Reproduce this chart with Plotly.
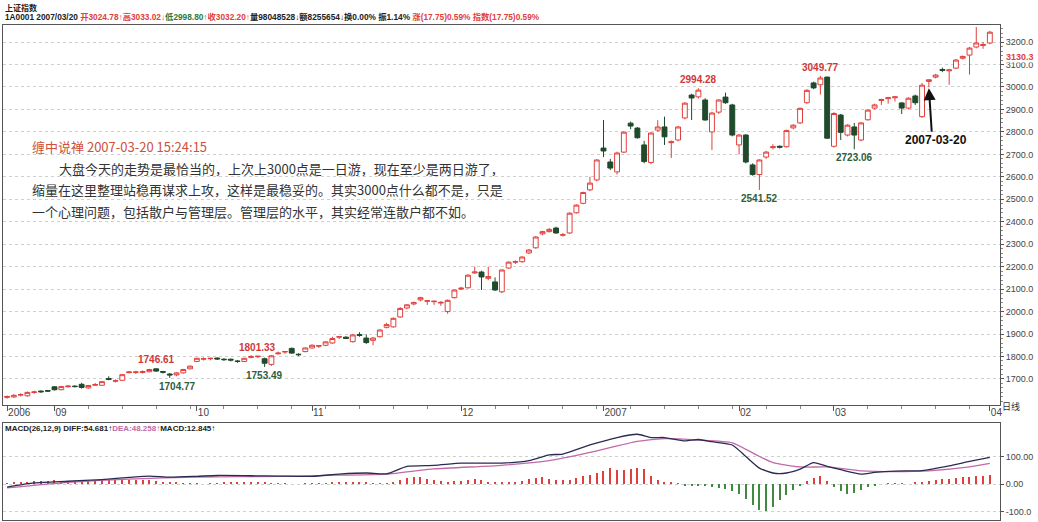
import plotly.graph_objects as go

# ---------------- data ----------------
opens = [1618,1620,1628,1625,1640,1646,1648,1665,1652,1665,1668,1676,1660,1672,1672,1702,1690,1694,1728,1729,
         1729,1732,1745,1733,1722,1718,1727,1745,1778,1788,1790,1793,1788,1788,1780,1778,1796,1799,1790,1765,
         1812,1820,1836,1810,1822,1838,1846,1850,1860,1886,1886,1866,1898,1882,1872,1888,1930,1932,1976,2016,
         2034,2052,2046,2044,2038,2000,2062,2100,2106,2172,2176,2148,2132,2088,2194,2220,2222,2261,2284,2346,
         2356,2372,2340,2350,2440,2482,2542,2586,2728,2666,2622,2710,2839,2817,2742,2664,2808,2822,2752,2764,
         2862,2964,2956,2942,2800,2888,2955,2920,2742,2786,2653,2610,2688,2730,2736,2734,2818,2840,2930,3018,
         3010,3044,2736,2875,2786,2822,2764,2854,2906,2940,2948,2952,2929,2906,2960,2868,3024.78,3044,3078,3072,
         3084,3128,3142,3178,3185,3196]
highs = [1626,1632,1636,1644,1648,1649,1651,1668,1669,1672,1672,1683,1673,1682,1690,1712,1698,1722,1735,1736,
         1738,1745,1746.61,1736,1726,1730,1745,1760,1794,1796,1794,1796,1792,1790,1784,1794,1806,1801.33,1795,1806,
         1822,1824,1840,1814,1840,1854,1850,1868,1888,1890,1890,1900,1908,1898,1886,1921,1950,1974,2020,2034,
         2044,2066,2050,2048,2046,2054,2098,2110,2166,2200,2182,2200,2152,2188,2224,2228,2246,2278,2336,2360,
         2372,2378,2350,2442,2478,2534,2600,2678,2853,2680,2712,2802,2846,2822,2760,2798,2852,2868,2762,2826,
         2932,2970,2994.28,2950,2890,2946,2975,2925,2790,2790,2660,2678,2716,2745,2740,2810,2834,2908,2990,3024,
         3049.77,3046,2888,2880,2834,2840,2844,2900,2926,2948,2956,2958,2932,2954,2966,3018,3033.02,3058,3086,3080,
         3124,3140,3178,3267,3200,3250]
lows = [1612,1616,1622,1621,1634,1638,1642,1648,1650,1662,1662,1657,1657,1670,1669,1694,1684,1692,1725,1722,
        1724,1730,1732,1724,1704.77,1712,1724,1743,1775,1782,1783,1785,1780,1778,1772,1775,1792,1793,1753.49,1758,
        1808,1812,1812,1802,1818,1835,1838,1846,1856,1878,1878,1862,1888,1856,1850,1885,1925,1928,1972,2010,
        2028,2046,2030,2030,2026,1990,2058,2096,2102,2168,2096,2140,2092,2082,2190,2212,2218,2256,2280,2340,
        2352,2346,2334,2345,2436,2478,2536,2580,2688,2630,2610,2706,2812,2770,2660,2656,2800,2742,2684,2758,
        2856,2853,2948,2850,2719,2880,2925,2780,2700,2660,2605,2541.52,2680,2722,2726,2730,2812,2836,2925,2990,
        2966,2770,2730,2764,2780,2723.06,2758,2850,2900,2920,2926,2935,2880,2900,2920,2862,2998.80,3038,3066,3010,
        3080,3122,3055,3172,3170,3190]
closes = [1622,1627,1630,1640,1642,1643,1646,1652,1666,1668,1666,1662,1671,1675,1688,1698,1692,1719,1731,1731,
          1733,1742,1735,1730,1718,1727,1742,1757,1792,1790,1792,1789,1786,1784,1778,1792,1800,1801,1770,1803,
          1815,1822,1815,1808,1838,1850,1848,1865,1880,1888,1880,1896,1894,1862,1882,1918,1942,1970,2014,2030,
          2040,2062,2048,2046,2041,2050,2096,2104,2162,2176,2154,2156,2096,2185,2220,2222,2243,2274,2332,2356,
          2366,2350,2342,2438,2474,2530,2572,2675,2715,2639,2706,2799,2826,2774,2668,2795,2822,2778,2756,2822,
          2928,2951,2986,2853,2884,2942,2930,2786,2786,2666,2610,2675,2710,2734,2732,2806,2830,2905,2985,2996,
          3040,2772,2882,2798,2830,2786,2840,2897,2920,2944,2952,2956,2906,2950,2930,3008,3032.20,3053,3074,3076,
          3120,3136,3173,3196,3189,3244]

month_idx = [0, 7, 28, 45, 67, 88, 108, 122, 145]
month_labels = ["2006", "09", "10", "11", "12", "2007", "02", "03", "04"]

price_ticks = [1700, 1800, 1900, 2000, 2100, 2200, 2300, 2400, 2500, 2600, 2700, 2800, 2900, 3000, 3100, 3200]

diff_idx = [0,4,9,14,18,21,24,28,31,36,40,45,49,53,56,59,63,67,70,73,77,80,82,86,90,93,95,97,100,102,104,107,
            109,111,113,115,117,119,121,123,126,128,131,135,139,142,145]
diff_val = [-11,4,10,16,24,29,25,28,31,30,29,28,36,40,37,64,68,76,76,76,85,106,109,142,169,181,169,169,157,162,
            154,142,100,58,40,40,54,78,64,52,36,42,47,49,66,82,97]
dea_idx = [0,9,18,28,40,49,56,63,73,80,86,93,97,102,107,111,113,117,121,126,131,136,142,145]
dea_val = [-14,6,18,25,28,32,36,55,68,85,115,155,165,160,150,100,78,62,62,48,45,48,62,75]

macd_hist = [3,5,6,8,10,12,12,13,12,12,11,12,12,11,12,13,14,15,16,14,14,13,10,8,6,4,3,2,1,0,
             1,3,4,5,4,5,6,5,4,3,2,1,0,0,1,1,2,3,5,6,7,6,5,4,3,3,2,8,16,22,
             26,24,20,14,10,9,10,12,15,17,13,8,5,4,5,7,12,18,22,24,20,16,14,16,22,28,34,40,48,58,
             52,50,55,60,54,30,15,8,4,2,-4,-6,-5,-8,-10,-14,-18,-25,-35,-55,-75,-95,-100,-85,-60,-40,-22,-8,10,22,
             30,12,-12,-25,-35,-32,-22,-12,-4,0,2,2,1,0,4,6,10,14,18,20,22,24,26,28,30,32]

RED = "#e0403c"
GREEN = "#1f4a2c"
W, H = 1038, 522

def px(x):
    return x / W

def py(y):
    return 1 - y / H

xs = list(range(len(closes)))

fig = go.Figure()

fig.add_trace(go.Candlestick(
    x=xs, open=opens, high=highs, low=lows, close=closes,
    increasing=dict(line=dict(color=RED, width=1), fillcolor="white"),
    decreasing=dict(line=dict(color=GREEN, width=1), fillcolor=GREEN),
    xaxis="x", yaxis="y", showlegend=False, hoverinfo="skip"))

fig.add_trace(go.Bar(
    x=xs, y=macd_hist, width=0.18,
    marker=dict(color=[RED if v >= 0 else "#3f8a3f" for v in macd_hist], line=dict(width=0)),
    xaxis="x2", yaxis="y2", showlegend=False, hoverinfo="skip"))
fig.add_trace(go.Scatter(x=dea_idx, y=dea_val, mode="lines",
                         line=dict(color="#c06aa8", width=1.3, shape="spline", smoothing=0.6),
                         xaxis="x2", yaxis="y2", showlegend=False, hoverinfo="skip"))
fig.add_trace(go.Scatter(x=diff_idx, y=diff_val, mode="lines",
                         line=dict(color="#2a2a52", width=1.3, shape="spline", smoothing=0.6),
                         xaxis="x2", yaxis="y2", showlegend=False, hoverinfo="skip"))

xdom = [px(3), px(1000)]
xrange = [-0.6, 146.5]
grid = dict(showgrid=True, gridcolor="#cfcfcf", griddash="dot", gridwidth=1)
axfont = dict(family="Liberation Sans, Noto Sans CJK SC", size=9, color="#444444")

fig.update_layout(
    template="none",
    width=W, height=H, margin=dict(l=0, r=0, t=0, b=0, pad=0, autoexpand=False),
    paper_bgcolor="white", plot_bgcolor="white",
    showlegend=False, hovermode=False, bargap=0, boxgap=0.28, boxgroupgap=0,
    xaxis=dict(domain=xdom, range=xrange, anchor="y", showgrid=False, zeroline=False, automargin=False,
               rangeslider=dict(visible=False),
               tickmode="array", tickvals=month_idx, ticktext=month_labels,
               ticks="outside", ticklen=5, tickcolor="#555", tickfont=dict(axfont, size=10),
               ticklabelposition="outside right", ticklabelstandoff=-2,
               minor=dict(ticks="outside", ticklen=3, tick0=2, dtick=5, tickcolor="#888"),
               showline=True, linecolor="#555", linewidth=1, mirror=True),
    yaxis=dict(domain=[py(405), py(25)], range=[1584, 3276], side="right", anchor="x", automargin=False,
               tickmode="array", tickvals=price_ticks, tickformat=".1f",
               ticks="outside", ticklen=3, tickcolor="#555", tickfont=axfont,
               minor=dict(ticks="outside", ticklen=2, dtick=20, tickcolor="#888"),
               showline=True, linecolor="#555", linewidth=1, mirror=True, zeroline=False, **grid),
    xaxis2=dict(domain=xdom, range=xrange, anchor="y2", showgrid=False, zeroline=False, automargin=False,
                showticklabels=False, ticks="", showline=True, linecolor="#555", linewidth=1, mirror=True),
    yaxis2=dict(domain=[py(520), py(423)], range=[-131, 222], side="right", anchor="x2", automargin=False,
                tickmode="array", tickvals=[100, 0, -100], ticktext=["100.00", "0.00", "-100.0"],
                ticks="outside", ticklen=3, tickcolor="#555", tickfont=axfont,
                showline=True, linecolor="#555", linewidth=1, mirror=True, zeroline=False, **grid),
)

ann = []
hfont = "Liberation Sans, Noto Sans CJK SC"
ann.append(dict(xref="paper", yref="paper", x=px(3), y=py(1), xanchor="left", yanchor="top",
                text="<b>上证指数</b>", showarrow=False, font=dict(family=hfont, size=8, color="#222")))
header = ("<b>1A0001 2007/03/20 "
          "<span style='color:#e0403c'>开3024.78↑高3033.02↓</span>"
          "<span style='color:#2e7a3a'>低2998.80↑</span>"
          "<span style='color:#e0403c'>收3032.20↑</span>"
          "量98048528↓额8255654↓换0.00% 振1.14% "
          "<span style='color:#e0403c'>涨(17.75)0.59% 指数(17.75)0.59%</span></b>")
ann.append(dict(xref="paper", yref="paper", x=px(3), y=py(10), xanchor="left", yanchor="top",
                text=header, showarrow=False, font=dict(family=hfont, size=8.3, color="#222")))

cfont = "Noto Sans CJK SC"
ann.append(dict(xref="paper", yref="paper", x=px(30), y=py(147), xanchor="left", yanchor="middle",
                text="缠中说禅 2007-03-20 15:24:15", showarrow=False,
                font=dict(family=cfont, size=13, color="#d0503c")))
body = ["大盘今天的走势是最恰当的，上次上3000点是一日游，现在至少是两日游了，",
        "缩量在这里整理站稳再谋求上攻，这样是最稳妥的。其实3000点什么都不是，只是",
        "一个心理问题，包括散户与管理层。管理层的水平，其实经常连散户都不如。"]
for i, (line, x0) in enumerate(zip(body, [57, 30, 30])):
    ann.append(dict(xref="paper", yref="paper", x=px(x0), y=py(168 + i * 21.5), xanchor="left",
                    yanchor="middle", text=line, showarrow=False,
                    font=dict(family=cfont, size=13, color="#333333")))

lfont = "Liberation Sans, Noto Sans CJK SC"
def plabel(i, val, txt, color, above, xs_=0):
    ann.append(dict(xref="x", yref="y", x=i, y=val, text="<b>" + txt + "</b>", showarrow=False,
                    yanchor="bottom" if above else "top", yshift=1 if above else -1, xshift=xs_,
                    font=dict(family=lfont, size=10, color=color)))

plabel(22, highs[22], "1746.61", "#d03838", True)
plabel(24, lows[24], "1704.77", "#2e5e3a", False, 8)
plabel(37, highs[37], "1801.33", "#d03838", True)
plabel(38, lows[38], "1753.49", "#2e5e3a", False)
plabel(102, highs[102], "2994.28", "#d03838", True)
plabel(111, lows[111], "2541.52", "#2e5e3a", False)
plabel(120, highs[120], "3049.77", "#d03838", True)
plabel(125, lows[125], "2723.06", "#2e5e3a", False)

ann.append(dict(xref="x", yref="y", x=136, y=lows[136], text="", showarrow=True,
                ax=3, ay=46, arrowhead=2, arrowsize=1.2, arrowwidth=2, arrowcolor="#111", standoff=1))
ann.append(dict(xref="x", yref="y", x=137, y=lows[136], text="<b>2007-03-20</b>", showarrow=False,
                yanchor="middle", yshift=-53, font=dict(family=lfont, size=12, color="#111")))

ann.append(dict(xref="paper", yref="y", x=px(1005), y=3132, xanchor="left", text="<b>3130.3</b>",
                showarrow=False, font=dict(family=lfont, size=9, color="#e0403c"), bgcolor="white",
                borderpad=0))
ann.append(dict(xref="paper", yref="paper", x=px(1022), y=py(415), text="日线", showarrow=False,
                font=dict(family=cfont, size=9, color="#333")))
ann.append(dict(xref="paper", yref="paper", x=px(3), y=py(428), xanchor="left", yanchor="middle",
                text=("<b>MACD(26,12,9) DIFF:54.681↑<span style='color:#c06aa8'>DEA:48.258↑</span>"
                      "MACD:12.845↑</b>"),
                showarrow=False, font=dict(family=lfont, size=8, color="#222")))

fig.update_layout(annotations=ann)

fig.write_html("out.html", config={"displayModeBar": False},
               post_script="document.body.style.margin='0';document.body.style.padding='0';")
